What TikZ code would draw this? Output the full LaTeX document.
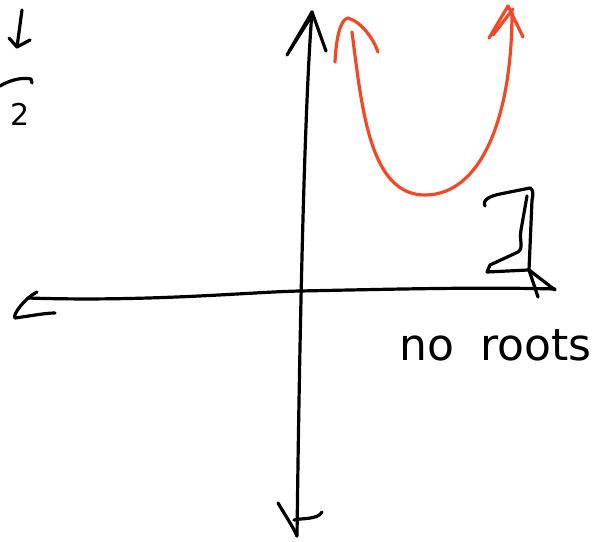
\documentclass[tikz,border=0pt]{standalone}
\usepackage{fontspec}
\newfontfamily\handfont{DejaVu Sans}
\definecolor{curvered}{RGB}{243,72,38}
\begin{document}
\begin{tikzpicture}[x=1pt,y=-1pt,
  ink/.style={line width=3.2pt,line cap=round,line join=round,black},
  redink/.style={line width=3.2pt,line cap=round,line join=round,curvered}]
\useasboundingbox[fill=white] (0,0) rectangle (613,541);
% vertical axis
\coordinate (vbot) at (297,536);
\coordinate (vtop) at (312,12);
\draw[ink] (vbot) .. controls (300,300) and (305,100) .. (vtop);
\draw[ink] (287,55) -- (vtop) -- (326,51);
\draw[ink] (290,50) -- (309,20);
\draw[ink] (278,503) .. controls (285,515) and (292,525) .. (vbot);
\draw[ink] (294,520) .. controls (300,518) and (318,520) .. (322,512);
% horizontal axis
\coordinate (hleft) at (28,298);
\coordinate (hright) at (555,289);
\draw[ink] (hleft) .. controls (150,302) and (250,292) .. (300,291) .. controls (400,289) and (480,287) .. (hright);
\draw[ink] (37,292) .. controls (25,298) and (12,315) .. (15,318) .. controls (30,316) and (45,313) .. (55,313);
% red parabola
\coordinate (rl) at (352,32);
\coordinate (rb) at (425,195);
\coordinate (rr) at (512,12);
\draw[redink] (rl) .. controls (362,110) and (370,195) .. (rb) .. controls (480,195) and (512,120) .. (rr);
\draw[redink] (335,62) .. controls (336,40) and (340,19) .. (348,18) .. controls (362,22) and (374,40) .. (378,52);
\draw[redink] (489,38) -- (508,6) -- (523,37);
\draw[redink] (493,35) -- (513,9);
% bracket mark
\draw[ink] (485,206) .. controls (482,200) and (490,196) .. (500,194) -- (530,188) .. controls (534,190) and (533,195) .. (532,200) -- (529,270) -- (555,290);
\draw[ink] (527,196) -- (521,230) .. controls (519,240) and (524,248) .. (518,252) -- (490,265) -- (487,272) -- (528,270);
\draw[ink] (529,270) -- (538,297);
% top-left marks
\draw[ink] (22,10) -- (17,47);
\draw[ink] (9,38) -- (17,47) -- (30,40);
\draw[ink] (0,86) .. controls (10,80) and (22,77) .. (31,79) -- (32,83);
\node[inner sep=0pt,font=\handfont\fontsize{30}{32}\selectfont] (two) at (20,114) {2};
% label
\node[inner sep=0pt,anchor=base west,font=\handfont\fontsize{44}{50}\selectfont] (lbl) at (399,360) {no\hspace{0.6em}roots};
\end{tikzpicture}
\end{document}
